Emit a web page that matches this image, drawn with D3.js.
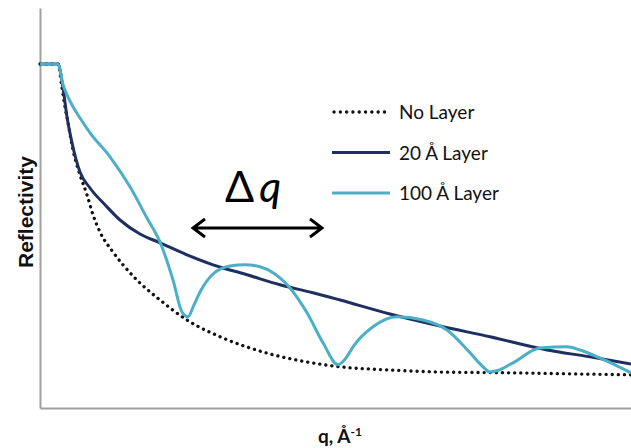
<!DOCTYPE html>
<html>
<head>
<meta charset="utf-8">
<script src="https://cdn.jsdelivr.net/npm/d3@7"></script>
<style>
  body { margin: 0; background: #fff; }
  svg { display: block; }
</style>
</head>
<body>
<svg id="chart" width="631" height="448"></svg>
<script>
// values (arbitrary units: q along x, reflectivity along y)
var noLayerQ = [0, 1.8, 2.2, 2.5, 2.8, 3.3, 4.0, 4.7, 5.3, 6.0, 7.3, 9.3, 12.0, 14.7, 18.3, 22.3, 26.7, 30.0, 35.0, 40.0, 47.0, 54.0, 59.1];
var noLayerR = [86, 86, 80, 75.3, 71.3, 64.5, 58.3, 53.3, 48.3, 44, 39, 33, 27, 22, 17.5, 14, 11.5, 10.3, 9.5, 9, 8.8, 8.5, 8.3];

var layer20Q = [0, 1.8, 2.3, 2.7, 3.2, 4.0, 5.0, 6.5, 8.0, 10.0, 12.0, 14.7, 17.3, 20.7, 24.0, 27.3, 30.0, 35.0, 40.0, 45.0, 50.7, 55.0, 59.1];
var layer20R = [86, 86, 80, 72.8, 66.3, 59, 55, 50.8, 47, 43.5, 41.3, 38.3, 35.8, 33.3, 30.8, 28.8, 27, 23.5, 20.5, 17.8, 14.5, 12.8, 11];

var layer100Q = [0, 1.8, 2.3, 2.7, 3.3, 4.0, 5.0, 7.0, 9.0, 10.7, 12.0, 13.3, 14.2, 14.8, 15.4, 16.0, 17.3, 19.0, 20.5, 22.0, 23.3, 25.0, 26.7, 28.3, 29.8, 30.6, 31.3, 33.3, 35.7, 38.3, 40.7, 43.0, 44.3, 45.0, 45.7, 47.3, 50.0, 52.7, 54.0, 56.0, 57.5, 59.1];
var layer100R = [86, 86, 80.8, 78.3, 75.3, 72.5, 68.8, 62.8, 55.3, 47.5, 41.5, 32, 24, 22.8, 25.8, 29, 33.5, 35.5, 35.8, 35.3, 33.8, 30, 23.8, 16.3, 10.8, 12.5, 15.3, 20.3, 22.8, 22, 19.5, 13.8, 10.3, 9, 9.3, 11.3, 15, 15.3, 14.5, 12.5, 10.8, 8.8];

var seriesNames = ["No Layer", "20 \u00C5 Layer", "100 \u00C5 Layer"];
var seriesColors = ["#111111", "#1f3060", "#4bafc8"];

// delta q annotation (data units)
var deltaQStart = 15.3, deltaQEnd = 28.2, deltaQLevel = 45;

var svg = d3.select("#chart"),
    plotLeft = 40, plotRight = 631, plotTop = 8, plotBottom = 408;

var x = d3.scaleLinear().domain([0, 59.1]).range([plotLeft, plotRight]);
var y = d3.scaleLinear().domain([0, 100]).range([plotBottom, plotTop]);

function pairs(qs, rs) {
  return qs.map(function(q, i) { return [q, rs[i]]; });
}

// axes, no ticks
svg.append("g")
   .attr("transform", "translate(0," + plotBottom + ")")
   .call(d3.axisBottom(x).ticks(0).tickSizeOuter(0))
   .call(function(g) { g.select(".domain").attr("stroke", "#a0a0a0").attr("stroke-width", 2); });

svg.append("g")
   .attr("transform", "translate(" + plotLeft + ",0)")
   .call(d3.axisLeft(y).ticks(0).tickSizeOuter(0))
   .call(function(g) { g.select(".domain").attr("stroke", "#a0a0a0").attr("stroke-width", 2); });

var smooth = d3.line()
  .x(function(d) { return x(d[0]); })
  .y(function(d) { return y(d[1]); })
  .curve(d3.curveMonotoneX);

svg.append("path")
   .attr("d", smooth(pairs(noLayerQ, noLayerR)))
   .attr("fill", "none")
   .attr("stroke", seriesColors[0])
   .attr("stroke-width", 3.3)
   .attr("stroke-linecap", "round")
   .attr("stroke-dasharray", "0.1,6");

svg.append("path")
   .attr("d", smooth(pairs(layer20Q, layer20R)))
   .attr("fill", "none")
   .attr("stroke", seriesColors[1])
   .attr("stroke-width", 3);

svg.append("path")
   .attr("d", smooth(pairs(layer100Q, layer100R)))
   .attr("fill", "none")
   .attr("stroke", seriesColors[2])
   .attr("stroke-width", 3);

// legend
var legend = svg.append("g").attr("transform", "translate(332,112)");
seriesNames.forEach(function(name, i) {
  var row = legend.append("g").attr("transform", "translate(0," + (i * 40.5) + ")");
  var ln = row.append("line")
     .attr("x1", 0).attr("x2", 58)
     .attr("stroke", seriesColors[i])
     .attr("stroke-width", 3);
  if (i == 0) ln.attr("stroke-dasharray", "0.1,6.2").attr("stroke-linecap", "round").attr("x1", 2).attr("stroke-width", 3.3);
  row.append("text")
     .attr("x", 67).attr("y", 7)
     .style("font-family", "Lato")
     .style("font-size", "19px")
     .attr("fill", "#111")
     .text(name);
});

// axis titles
svg.append("text")
   .attr("transform", "translate(33,212) rotate(-90)")
   .attr("text-anchor", "middle")
   .style("font-family", "'Liberation Sans', Arial, sans-serif")
   .style("font-weight", "bold")
   .style("font-size", "21px")
   .attr("fill", "#111")
   .text("Reflectivity");

var qt = svg.append("text")
   .attr("x", 318).attr("y", 443)
   .style("font-family", "Lato")
   .style("font-weight", "bold")
   .style("font-size", "19px")
   .attr("fill", "#111");
qt.append("tspan").text("q, \u00C5");
qt.append("tspan").attr("dy", -7).style("font-size", "12px").text("-1");

// delta q annotation
var dq = svg.append("text")
   .attr("x", x(18.5)).attr("y", y(51.5))
   .style("font-family", "Lato")
   .style("font-size", "43px")
   .attr("fill", "#000");
dq.append("tspan").text("\u0394");
dq.append("tspan").attr("dx", 5).style("font-style", "italic").text("q");

var ay = y(deltaQLevel), ax0 = x(deltaQStart), ax1 = x(deltaQEnd);
svg.append("path")
   .attr("d", "M" + ax0 + "," + ay + "H" + ax1 +
              "M" + (ax0 + 12) + "," + (ay - 9) + "L" + ax0 + "," + ay + "L" + (ax0 + 12) + "," + (ay + 9) +
              "M" + (ax1 - 12) + "," + (ay - 9) + "L" + ax1 + "," + ay + "L" + (ax1 - 12) + "," + (ay + 9))
   .attr("fill", "none")
   .attr("stroke", "#000")
   .attr("stroke-width", 3);
</script>
</body>
</html>
